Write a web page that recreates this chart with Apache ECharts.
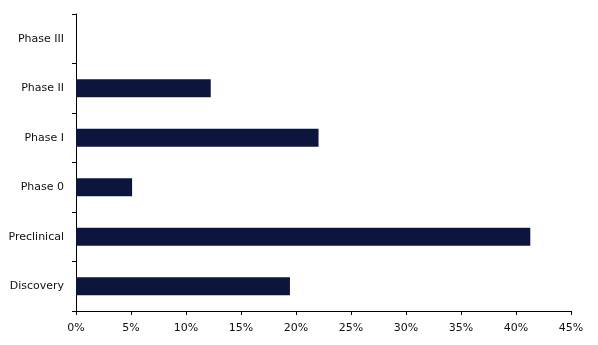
<!DOCTYPE html>
<html><head><meta charset="utf-8">
<script src="https://cdn.jsdelivr.net/npm/echarts@6/dist/echarts.min.js"></script>
<style>html,body{margin:0;padding:0;background:#fff}#c{width:598px;height:345px}</style>
</head><body><div id="c"></div>
<script>
const categories = ["Discovery", "Preclinical", "Phase 0", "Phase I", "Phase II", "Phase III"];
const values = [19.45, 41.3, 5.1, 22.05, 12.25, 0];
const xTicks = [0, 5, 10, 15, 20, 25, 30, 35, 40, 45];

const chart = echarts.init(document.getElementById('c'), null, {renderer: 'canvas'});
chart.setOption({
  animation: false,
  grid: {left: 76, right: 27, top: 14, bottom: 34, containLabel: false},
  xAxis: {
    type: 'value', min: 0, max: 45, interval: 5,
    axisLine: {show: true, lineStyle: {color: '#000', width: 1}},
    axisTick: {show: true, length: 4, lineStyle: {color: '#000'}},
    splitLine: {show: false},
    axisLabel: {formatter: v => xTicks.includes(v) ? v + '%' : '', color: '#111', fontFamily: 'DejaVu Sans', fontSize: 11, margin: 12}
  },
  yAxis: {
    type: 'category', data: categories,
    axisLine: {show: true, lineStyle: {color: '#000', width: 1}},
    axisTick: {show: true, length: 4, lineStyle: {color: '#000'}},
    axisLabel: {color: '#111', fontFamily: 'DejaVu Sans', fontSize: 11, margin: 12}
  },
  series: [{
    type: 'bar', data: values, barWidth: 18,
    itemStyle: {color: '#0C163D'}
  }]
});
</script></body></html>
